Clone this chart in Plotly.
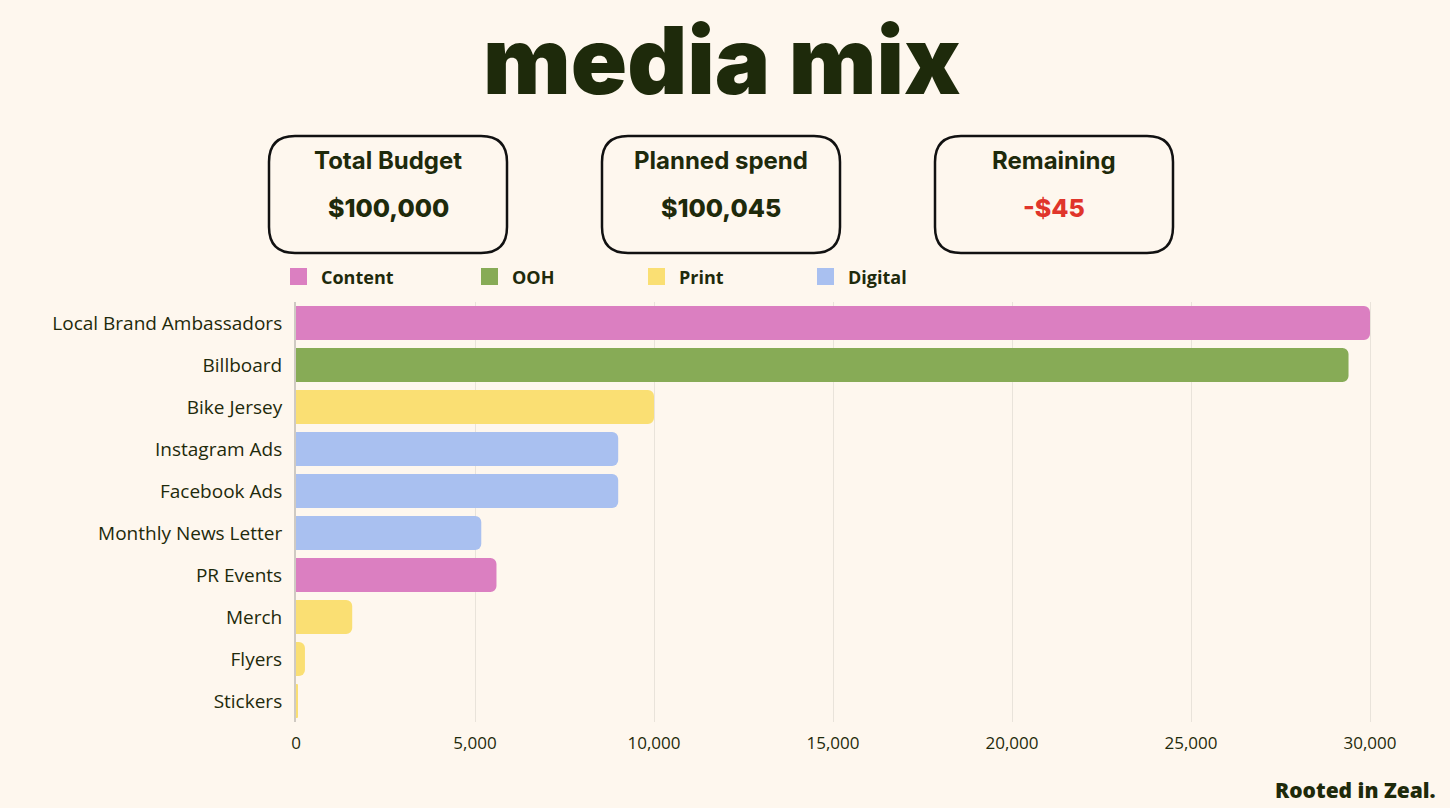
import plotly.graph_objects as go

# ---- data ----
items = ["Local Brand Ambassadors", "Billboard", "Bike Jersey", "Instagram Ads",
         "Facebook Ads", "Monthly News Letter", "PR Events", "Merch", "Flyers", "Stickers"]
spend = [30000, 29400, 10000, 9000, 9000, 5175, 5600, 1570, 250, 50]
item_category = ["Content", "OOH", "Print", "Digital", "Digital", "Digital",
                 "Content", "Print", "Print", "Print"]
categories = ["Content", "OOH", "Print", "Digital"]
category_colors = ["#DB7FC1", "#87AB56", "#FADF73", "#A9C0F0"]
x_ticks = [0, 5000, 10000, 15000, 20000, 25000, 30000]
card_titles = ["Total Budget", "Planned spend", "Remaining"]
card_values = ["$100,000", "$100,045", "-$45"]

BG = "#FEF7EE"
INK = "#1E2A0B"
RED = "#E0352B"
W, H = 1450, 808
ML, MR, MT, MB = 296, 50, 302, 86
PW, PH = W - ML - MR, H - MT - MB
TICKFONT = "Open Sans"


def px(xp):
    return (xp - ML) / PW


def py(yp):
    return (H - MB - yp) / PH


color_map = dict(zip(categories, category_colors))

fig = go.Figure()
fig.add_trace(go.Bar(
    y=items, x=spend, orientation="h",
    marker=dict(color=[color_map[c] for c in item_category], line=dict(width=0)),
    showlegend=False,
    hovertemplate="%{y}: $%{x:,}<extra></extra>",
))

shapes = []
annotations = []

# title
annotations.append(dict(text="media mix", xref="paper", yref="paper", x=px(722), y=py(60),
                        xanchor="center", yanchor="middle", showarrow=False,
                        font=dict(family="Inter", size=93, color=INK, weight=900)))

# cards
card_left = [269, 602, 935]
cw, ch, r = 238, 117, 26
top = 136
for i, (t, v) in enumerate(zip(card_titles, card_values)):
    x0, x1 = card_left[i], card_left[i] + cw
    y0, y1 = top, top + ch
    pts = (f"M {px(x0 + r)},{py(y0)} L {px(x1 - r)},{py(y0)} "
           f"Q {px(x1)},{py(y0)} {px(x1)},{py(y0 + r)} "
           f"L {px(x1)},{py(y1 - r)} Q {px(x1)},{py(y1)} {px(x1 - r)},{py(y1)} "
           f"L {px(x0 + r)},{py(y1)} Q {px(x0)},{py(y1)} {px(x0)},{py(y1 - r)} "
           f"L {px(x0)},{py(y0 + r)} Q {px(x0)},{py(y0)} {px(x0 + r)},{py(y0)} Z")
    shapes.append(dict(type="path", path=pts, xref="paper", yref="paper",
                       line=dict(color="#111111", width=2.5), fillcolor="rgba(0,0,0,0)"))
    cx = (x0 + x1) / 2
    annotations.append(dict(text=t, xref="paper", yref="paper", x=px(cx), y=py(160),
                            xanchor="center", yanchor="middle", showarrow=False,
                            font=dict(family="Inter", size=24, color=INK, weight=700)))
    annotations.append(dict(text=v, xref="paper", yref="paper", x=px(cx), y=py(208),
                            xanchor="center", yanchor="middle", showarrow=False,
                            font=dict(family="Inter", size=25, color=RED if v.startswith("-") else INK,
                                      weight=800)))

# legend (manual)
leg_x = [290, 481, 648, 817]
for c, col, lx in zip(categories, category_colors, leg_x):
    shapes.append(dict(type="rect", xref="paper", yref="paper",
                       x0=px(lx), x1=px(lx + 17), y0=py(268), y1=py(285),
                       fillcolor=col, line=dict(width=0)))
    annotations.append(dict(text=c, xref="paper", yref="paper", x=px(lx + 29), y=py(277),
                            xanchor="left", yanchor="middle", showarrow=False,
                            font=dict(family=TICKFONT, size=18, color=INK, weight=700)))

# footer
annotations.append(dict(text="Rooted in Zeal.", xref="paper", yref="paper", x=px(1438), y=py(790),
                        xanchor="right", yanchor="middle", showarrow=False,
                        font=dict(family=TICKFONT, size=21, color=INK, weight=800)))

fig.update_layout(
    width=W, height=H,
    margin=dict(l=ML, r=MR, t=MT, b=MB, pad=0),
    paper_bgcolor=BG, plot_bgcolor=BG,
    bargap=0.19, barcornerradius=6,
    shapes=shapes, annotations=annotations,
    font=dict(family=TICKFONT, color=INK, size=17),
    xaxis=dict(range=[0, 30000 * PW / 1074], tickvals=x_ticks,
               ticktext=[f"{v:,}" for v in x_ticks],
               showgrid=True, gridcolor="#E9E3DA", gridwidth=1,
               zeroline=False, showline=False,
               ticks="outside", ticklen=6, tickcolor=BG,
               tickfont=dict(family=TICKFONT, size=17, color=INK), fixedrange=True),
    yaxis=dict(categoryorder="array", categoryarray=items, autorange="reversed",
               showgrid=False, zeroline=False,
               showline=True, linecolor="#CFCAC3", linewidth=2,
               ticks="outside", ticklen=8, tickcolor=BG,
               tickfont=dict(family=TICKFONT, size=19, color=INK), fixedrange=True),
)

fig.write_html("out.html")
